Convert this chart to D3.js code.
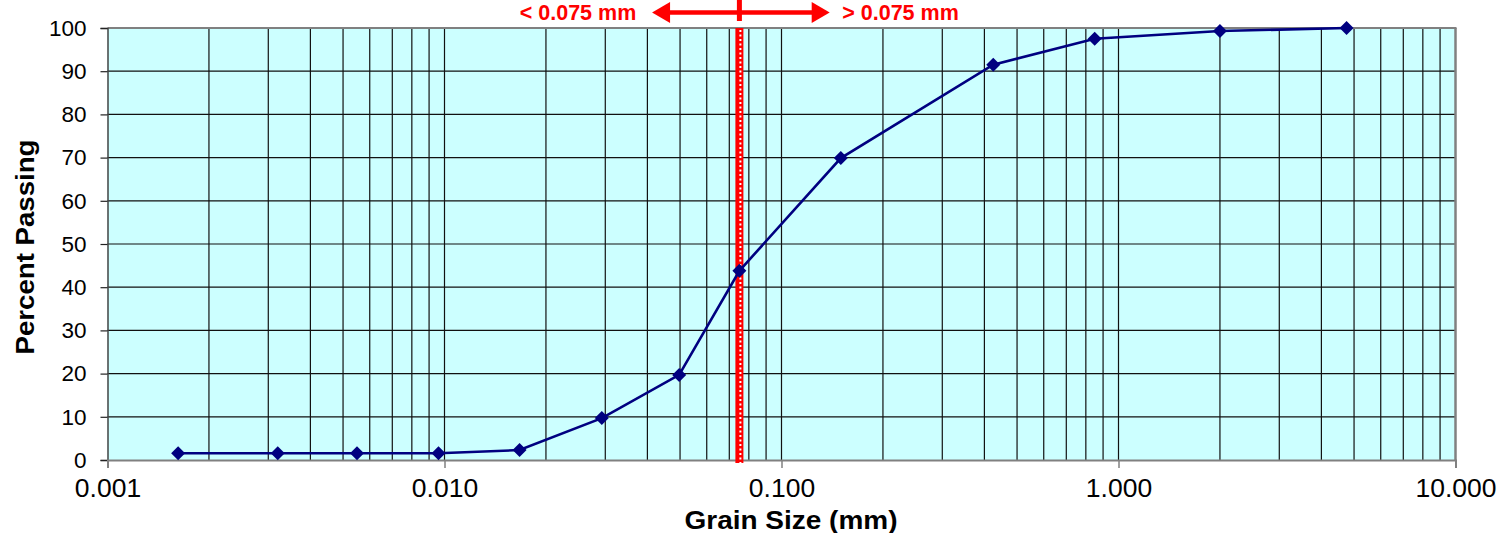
<!DOCTYPE html>
<html>
<head>
<meta charset="utf-8">
<script src="https://cdn.jsdelivr.net/npm/d3@7"></script>
<style>
html,body{margin:0;padding:0;background:#fff;}
svg{display:block;font-family:"Liberation Sans",Arial,sans-serif;}
</style>
</head>
<body>
<svg id="chart" width="1501" height="533"></svg>
<script>
// Data
const grainSize = [4.75, 2.0, 0.85, 0.425, 0.15, 0.075, 0.0497, 0.0293, 0.0167, 0.0096, 0.0055, 0.0032, 0.00162];
const percentPassing = [100, 99.3, 97.5, 91.5, 69.9, 43.8, 19.7, 9.7, 2.3, 1.55, 1.55, 1.55, 1.55];
const xTickValues = [0.001, 0.01, 0.1, 1, 10];
const yTickValues = [0, 10, 20, 30, 40, 50, 60, 70, 80, 90, 100];
const dividerSize = [0.075];
const dividerLabels = ["< 0.075 mm", "> 0.075 mm"];

(function () {
const svg = d3.select("#chart");
const pLeft = 107.5, pRight = 1455.5, pTop = 28, pBottom = 460;

const x = d3.scaleLog().domain([0.001, 10]).range([pLeft, pRight]);
const y = d3.scaleLinear().domain([0, 100]).range([pBottom, pTop]);

// plot background
svg.append("rect").attr("x", pLeft).attr("y", pTop).attr("width", pRight - pLeft).attr("height", pBottom - pTop).attr("fill", "#CCFFFF");

// vertical grid (all log ticks)
const minorVals = [];
for (let d = -3; d < 1; d++) {
  for (let k = 1; k <= 9; k++) {
    const v = k * Math.pow(10, d);
    if (v > 0.001 * 1.0001) minorVals.push(v);
  }
}
svg.append("g").selectAll("line").data(minorVals.filter(v => v < 9.999)).join("line")
  .attr("x1", d => x(d)).attr("x2", d => x(d)).attr("y1", pTop).attr("y2", pBottom)
  .attr("stroke", "#111").attr("stroke-width", 1.2);

// horizontal grid
svg.append("g").selectAll("line").data(yTickValues.filter(v => v > 0 && v < 100)).join("line")
  .attr("x1", pLeft).attr("x2", pRight).attr("y1", d => y(d)).attr("y2", d => y(d))
  .attr("stroke", "#111").attr("stroke-width", 1.2);

// border top/right
svg.append("line").attr("x1", pLeft).attr("x2", pRight + 1).attr("y1", pTop).attr("y2", pTop).attr("stroke", "#808080").attr("stroke-width", 2);
svg.append("line").attr("x1", pRight).attr("x2", pRight).attr("y1", pTop).attr("y2", pBottom).attr("stroke", "#808080").attr("stroke-width", 2.5);

// Y axis
const yAxis = d3.axisLeft(y).tickValues(yTickValues).tickSize(7).tickPadding(14).tickFormat(d3.format("d"));
const gy = svg.append("g").attr("transform", `translate(${pLeft},0)`).call(yAxis);
gy.select(".domain").attr("stroke", "#444").attr("stroke-width", 1.5);
gy.selectAll(".tick line").attr("stroke", "#222").attr("stroke-width", 1.2);
gy.selectAll("text").attr("font-size", 22.5).attr("fill", "#000").attr("font-family", "Liberation Sans, Arial, sans-serif");

// X axis
const xAxis = d3.axisBottom(x).tickValues(xTickValues).tickSize(8).tickPadding(10).tickFormat(d3.format(".3f"));
const gx = svg.append("g").attr("transform", `translate(0,${pBottom})`).call(xAxis);
gx.select(".domain").attr("stroke", "#808080").attr("stroke-width", 2);
gx.selectAll(".tick line").attr("stroke", "#808080").attr("stroke-width", 1.5);
gx.selectAll("text").attr("font-size", 26.5).attr("fill", "#000").attr("font-family", "Liberation Sans, Arial, sans-serif").attr("dy", "0.71em");

// red divider line
const xd = x(dividerSize[0]);
svg.append("rect").attr("x", xd - 4).attr("y", pTop).attr("width", 8).attr("height", pBottom + 3 - pTop).attr("fill", "#FF0000");
svg.append("line").attr("x1", xd + 1).attr("x2", xd + 1).attr("y1", pTop + 2).attr("y2", pBottom + 3)
  .attr("stroke", "#fff").attr("stroke-width", 2).attr("stroke-dasharray", "2,2.5");

// data line
const pts = grainSize.map((g, i) => [g, percentPassing[i]]);
svg.append("path").datum(pts)
  .attr("d", d3.line().x(d => x(d[0])).y(d => y(d[1])))
  .attr("fill", "none").attr("stroke", "#000080").attr("stroke-width", 2.6);

svg.append("g").selectAll("path").data(pts).join("path")
  .attr("transform", d => `translate(${x(d[0])},${y(d[1])})`)
  .attr("d", "M0,-7L7,0L0,7L-7,0Z")
  .attr("fill", "#000080");

// top arrow
const arrowY = 12.5;
const arrowL = x(0.0413), arrowR = x(0.139);
svg.append("line").attr("x1", arrowL + 10).attr("x2", arrowR - 10).attr("y1", arrowY).attr("y2", arrowY)
  .attr("stroke", "#FF0000").attr("stroke-width", 4.5);
svg.append("path").attr("d", `M${arrowL},${arrowY}L${arrowL + 18},${arrowY - 10.5}L${arrowL + 18},${arrowY + 10.5}Z`).attr("fill", "#FF0000");
svg.append("path").attr("d", `M${arrowR},${arrowY}L${arrowR - 18},${arrowY - 10.5}L${arrowR - 18},${arrowY + 10.5}Z`).attr("fill", "#FF0000");
svg.append("rect").attr("x", xd - 2.5).attr("y", 0).attr("width", 5).attr("height", 21).attr("fill", "#FF0000");

svg.append("text").attr("x", 578).attr("y", 20).attr("text-anchor", "middle")
  .attr("font-size", 21.5).attr("font-weight", "bold").attr("fill", "#FF0000").text(dividerLabels[0]);
svg.append("text").attr("x", 900.5).attr("y", 20).attr("text-anchor", "middle")
  .attr("font-size", 21.5).attr("font-weight", "bold").attr("fill", "#FF0000").text(dividerLabels[1]);

// axis titles
svg.append("text").attr("x", 791).attr("y", 529).attr("text-anchor", "middle")
  .attr("font-size", 25).attr("font-weight", "bold").attr("fill", "#000")
  .attr("textLength", 213).attr("lengthAdjust", "spacingAndGlyphs").text("Grain Size (mm)");
svg.append("text").attr("transform", "translate(34,247) rotate(-90)").attr("text-anchor", "middle")
  .attr("font-size", 25).attr("font-weight", "bold").attr("fill", "#000")
  .attr("textLength", 215).attr("lengthAdjust", "spacingAndGlyphs").text("Percent Passing");
})();
</script>
</body>
</html>
